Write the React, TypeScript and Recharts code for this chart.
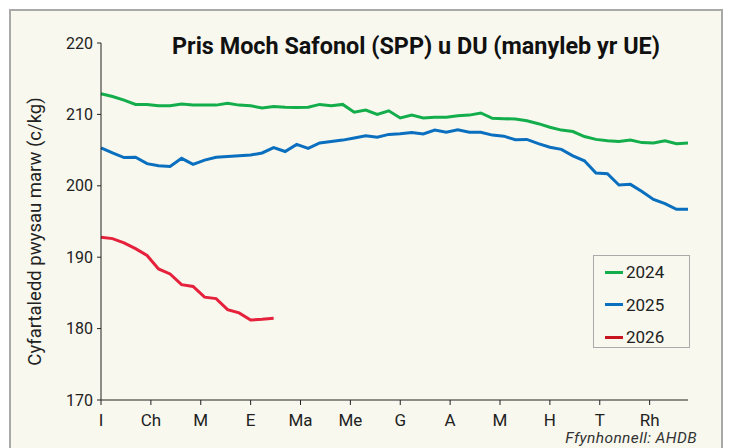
import { Line, LineChart, XAxis, YAxis } from "recharts";

const MONTHS = ["I", "Ch", "M", "E", "Ma", "Me", "G", "A", "M", "H", "T", "Rh"];

const SERIES_NAMES = ["2024", "2025", "2026"];

const SERIES_COLORS: Record<string, string> = {
  "2024": "#13AE4B",
  "2025": "#0A6FBE",
  "2026": "#E5213C",
};

const LEGEND_COLORS: Record<string, string> = {
  "2024": "#13AE4B",
  "2025": "#0A6FBE",
  "2026": "#C8141E",
};

// weekly SPP, c/kg
const SPP_2024 = [
  212.9, 212.5, 212.0, 211.4, 211.4, 211.2, 211.2, 211.45, 211.3, 211.3,
  211.3, 211.55, 211.3, 211.2, 210.9, 211.1, 211.0, 210.95, 211.0, 211.4,
  211.2, 211.4, 210.3, 210.6, 210.0, 210.5, 209.5, 209.9, 209.5, 209.6,
  209.6, 209.8, 209.9, 210.2, 209.45, 209.4, 209.35, 209.1, 208.7, 208.2,
  207.8, 207.6, 206.9, 206.5, 206.3, 206.2, 206.4, 206.05, 206.0, 206.3,
  205.9, 206.0,
];

const SPP_2025 = [
  205.3, 204.6, 203.95, 204.0, 203.1, 202.8, 202.7, 203.85, 203.0, 203.6,
  204.0, 204.1, 204.2, 204.3, 204.6, 205.35, 204.8, 205.8, 205.25, 206.0,
  206.2, 206.4, 206.7, 207.0, 206.8, 207.2, 207.3, 207.45, 207.25, 207.8,
  207.5, 207.85, 207.5, 207.5, 207.1, 206.95, 206.45, 206.5, 205.9, 205.4,
  205.1, 204.2, 203.5, 201.8, 201.7, 200.1, 200.2, 199.2, 198.1, 197.5,
  196.7, 196.7,
];

const SPP_2026 = [
  192.8, 192.6, 192.0, 191.2, 190.25, 188.35, 187.65, 186.15, 185.9, 184.4,
  184.2, 182.65, 182.2, 181.2, 181.3, 181.45,
];

const Y_TICKS = [170, 180, 190, 200, 210, 220];

const WEEKS_PER_YEAR = 52;

const data = SPP_2024.map((v, i) => ({
  week: i,
  "2024": v,
  "2025": SPP_2025[i],
  "2026": SPP_2026[i],
}));

const monthTicks = MONTHS.map((_, i) => (i * WEEKS_PER_YEAR) / 12);

const font = "Roboto, 'Noto Sans', sans-serif";

function LegendBox() {
  return (
    <div
      style={{
        position: "absolute",
        left: 593,
        top: 255,
        width: 97,
        height: 93,
        border: "1px solid #aaa",
        boxSizing: "border-box",
        padding: "0 0 0 11px",
        fontFamily: font,
        fontSize: 17,
        color: "#222",
      }}
    >
      {SERIES_NAMES.map((name) => (
        <div key={name} style={{ display: "flex", alignItems: "center", height: 32.5 }}>
          <span
            style={{
              display: "inline-block",
              width: 18,
              height: 3,
              background: LEGEND_COLORS[name],
              marginRight: 3,
            }}
          />
          <span>{name}</span>
        </div>
      ))}
    </div>
  );
}

export default function App() {
  return (
    <div
      style={{
        position: "absolute",
        left: 0,
        top: 0,
        width: 729,
        height: 448,
        background: "#fff",
        overflow: "hidden",
      }}
    >
      <div
        style={{
          position: "absolute",
          left: 9,
          top: 9,
          width: 714,
          height: 460,
          border: "2px solid #a9a9a9",
          boxSizing: "border-box",
          background: "#F8F8EE",
        }}
      />
      <div
        style={{
          position: "absolute",
          left: 172,
          top: 33,
          lineHeight: "26px",
          fontFamily: font,
          fontWeight: 700,
          fontSize: 23.4,
          color: "#111",
          whiteSpace: "nowrap",
        }}
      >
        Pris Moch Safonol (SPP) u DU (manyleb yr UE)
      </div>
      <div
        style={{
          position: "absolute",
          right: 32,
          top: 430,
          lineHeight: "17px",
          fontFamily: font,
          fontStyle: "italic",
          fontSize: 15.5,
          letterSpacing: 0.4,
          color: "#333",
        }}
      >
        Ffynhonnell: AHDB
      </div>
      <div style={{ position: "absolute", left: 0, top: 0 }}>
        <LineChart
          width={729}
          height={448}
          data={data}
          margin={{ top: 43, right: 41, left: 41, bottom: 18 }}
        >
          <XAxis
            dataKey="week"
            type="number"
            domain={[0, WEEKS_PER_YEAR - 1]}
            ticks={monthTicks}
            interval={0}
            tickFormatter={(_v: number, i: number) => MONTHS[i]}
            tick={{ fontSize: 17, fill: "#222", fontFamily: font }}
            stroke="#222"
            tickSize={5}
            tickMargin={9}
            height={30}
          />
          <YAxis
            domain={[170, 220]}
            ticks={Y_TICKS}
            interval={0}
            tick={{ fontSize: 16, fill: "#222", fontFamily: font }}
            stroke="#222"
            tickSize={4}
            tickMargin={4}
            width={60}
            label={{
              value: "Cyfartaledd pwysau marw (c/kg)",
              angle: -90,
              position: "insideLeft",
              dx: -12,
              dy: 10,
              style: { fontSize: 18.5, fill: "#222", fontFamily: font, textAnchor: "middle" },
            }}
          />
          {SERIES_NAMES.map((name) => (
            <Line
              key={name}
              type="linear"
              dataKey={name}
              stroke={SERIES_COLORS[name]}
              strokeWidth={3}
              dot={false}
              connectNulls={false}
              isAnimationActive={false}
            />
          ))}
        </LineChart>
      </div>
      <LegendBox />
    </div>
  );
}
